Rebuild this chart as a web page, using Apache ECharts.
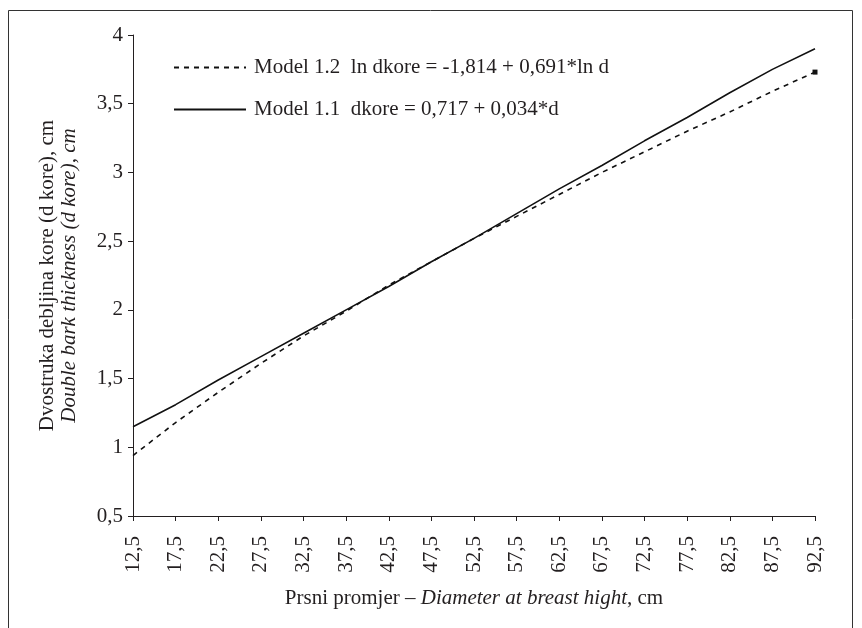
<!DOCTYPE html>
<html><head><meta charset="utf-8">
<script src="https://cdn.jsdelivr.net/npm/echarts@6/dist/echarts.min.js"></script>
<style>html,body{margin:0;padding:0;background:#fff}#c{width:862px;height:628px}</style>
</head><body><div id="c"></div>
<script>
const categories = ['12.5','17.5','22.5','27.5','32.5','37.5','42.5','47.5','52.5','57.5','62.5','67.5','72.5','77.5','82.5','87.5','92.5'];
const model11 = [1.15,1.31,1.49,1.66,1.83,2.00,2.17,2.35,2.52,2.70,2.88,3.05,3.23,3.40,3.58,3.75,3.90];
const model12 = [0.94,1.18,1.40,1.61,1.81,1.99,2.18,2.35,2.52,2.68,2.84,3.00,3.15,3.30,3.44,3.59,3.73];
const yTicks = {min:0.5, max:4, interval:0.5};
const name11 = 'Model 1.1  dkore = 0,717 + 0,034*d';
const name12 = 'Model 1.2  ln dkore = -1,814 + 0,691*ln d';

const FONT = '"Liberation Serif", "Times New Roman", serif';
const FS = 21;
const chart = echarts.init(document.getElementById('c'));
const m12data = model12.map((v,i)=> i===model12.length-1 ? {value:v, symbol:'rect', symbolSize:5} : v);
chart.setOption({
  animation:false,
  backgroundColor:'#fff',
  textStyle:{fontFamily:FONT, color:'#231f20'},
  graphic:[{type:'rect', shape:{x:8.5,y:10.5,width:844,height:640}, style:{fill:'none', stroke:'#333', lineWidth:1}}],
  grid:{left:133, right:47, top:35, bottom:112},
  legend:{
    orient:'vertical', left:168, top:52, itemGap:21, itemWidth:72, itemHeight:14,
    data:[name12, name11],
    itemStyle:{opacity:0},
    textStyle:{fontFamily:FONT, fontSize:FS, color:'#231f20', padding:[0,0,0,3]}
  },
  xAxis:{
    type:'category', data:categories, boundaryGap:false,
    axisLine:{lineStyle:{color:'#231f20', width:1}},
    axisTick:{show:true, length:5, alignWithLabel:true, lineStyle:{color:'#231f20'}},
    axisLabel:{rotate:90, fontFamily:FONT, fontSize:FS, color:'#231f20', margin:20, interval:0,
      formatter:v=>v.replace('.',',')},
    name:'{a|Prsni promjer – }{b|Diameter at breast hight}{a|, cm}',
    nameLocation:'middle', nameGap:72,
    nameTextStyle:{rich:{a:{fontFamily:FONT,fontSize:FS,color:'#231f20'},b:{fontFamily:FONT,fontSize:FS,fontStyle:'italic',color:'#231f20'}}}
  },
  yAxis:{
    type:'value', min:yTicks.min, max:yTicks.max, interval:yTicks.interval,
    axisLine:{show:true, lineStyle:{color:'#231f20', width:1}},
    axisTick:{show:true, length:5, lineStyle:{color:'#231f20'}},
    splitLine:{show:false},
    axisLabel:{fontFamily:FONT, fontSize:FS, color:'#231f20', margin:10,
      formatter:v=>String(v).replace('.',',')},
    name:'{a|Dvostruka debljina kore (d kore), cm}\n{b|Double bark thickness (d kore), cm}',
    nameLocation:'middle', nameGap:53, nameRotate:90,
    nameTextStyle:{rich:{a:{fontFamily:FONT,fontSize:FS,color:'#231f20',lineHeight:22},b:{fontFamily:FONT,fontSize:FS,fontStyle:'italic',color:'#231f20',lineHeight:22}}}
  },
  series:[
    {name:name12, type:'line', data:m12data, symbol:'none', itemStyle:{color:'#111'},
     lineStyle:{color:'#111', width:1.6, type:[5,5]}, z:3},
    {name:name11, type:'line', data:model11, symbol:'none', itemStyle:{color:'#111'},
     lineStyle:{color:'#111', width:1.6, type:'solid'}, z:2}
  ]
});
</script></body></html>
